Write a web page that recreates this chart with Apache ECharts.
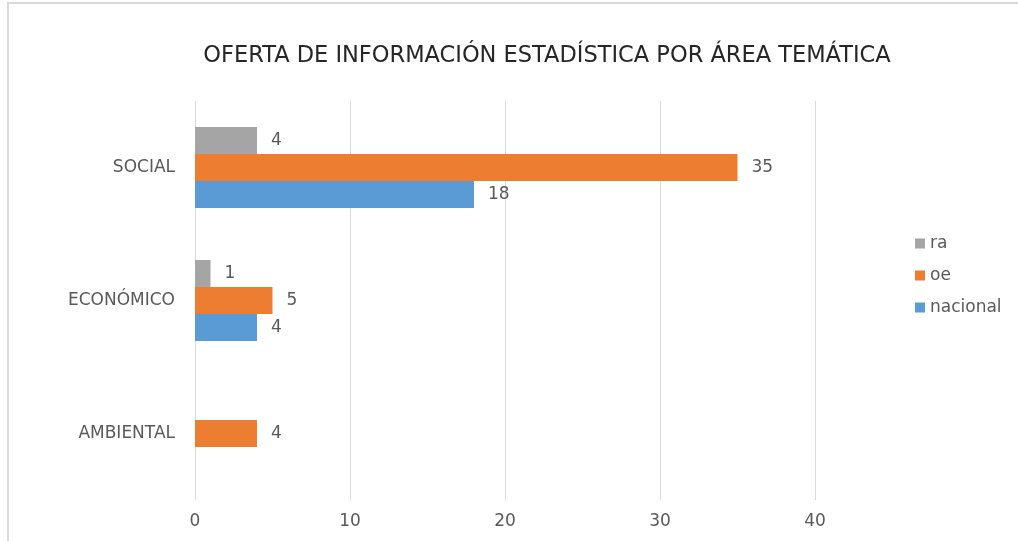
<!DOCTYPE html>
<html><head><meta charset="utf-8">
<script src="https://cdn.jsdelivr.net/npm/echarts@6/dist/echarts.min.js"></script>
<style>html,body{margin:0;padding:0;background:#fff}#c{width:1018px;height:541px}</style>
</head><body><div id="c"></div>
<script>
const categories = ['AMBIENTAL', 'ECONÓMICO', 'SOCIAL'];
const raValues = [null, 1, 4];
const oeValues = [4, 5, 35];
const nacionalValues = [null, 4, 18];
const xTicks = [0, 10, 20, 30, 40];

const chart = echarts.init(document.getElementById('c'));
const font = '"DejaVu Sans", "Open Sans", sans-serif';
const lbl = {show: true, position: 'right', color: '#595959', fontSize: 17, fontFamily: font, distance: 14};
chart.setOption({
  animation: false,
  textStyle: {fontFamily: font},
  graphic: [{type: 'rect', shape: {x: 8, y: 3, width: 1100, height: 700}, style: {fill: 'none', stroke: '#d9d9d9', lineWidth: 2}, z: -1}],
  title: {text: 'OFERTA DE INFORMACIÓN ESTADÍSTICA POR ÁREA TEMÁTICA', left: 542, top: 40, textAlign: 'center',
    textStyle: {fontFamily: font, fontSize: 22.5, fontWeight: 'normal', color: '#262626'}},
  legend: {orient: 'vertical', left: 910, top: 230, itemGap: 15, itemWidth: 10, itemHeight: 10, icon: 'rect',
    data: ['ra', 'oe', 'nacional'],
    textStyle: {fontFamily: font, fontSize: 17, color: '#595959'}},
  grid: {left: 195, top: 101, width: 620, height: 399, containLabel: false},
  xAxis: {type: 'value', min: 0, max: 40, interval: 10,
    axisLine: {show: false}, axisTick: {show: false},
    axisLabel: {color: '#595959', fontSize: 17, fontFamily: font, margin: 13, formatter: v => xTicks.includes(v) ? String(v) : ''},
    splitLine: {lineStyle: {color: '#d9d9d9', width: 1}}},
  yAxis: {type: 'category', data: categories,
    axisLine: {show: false}, axisTick: {show: false},
    axisLabel: {color: '#595959', fontSize: 17, fontFamily: font, margin: 20}},
  series: [
    {name: 'ra', type: 'bar', data: raValues, itemStyle: {color: '#a5a5a5'}, label: lbl, barWidth: 27, barGap: '0%'},
    {name: 'oe', type: 'bar', data: oeValues, itemStyle: {color: '#ed7d31'}, label: lbl, barWidth: 27, barGap: '0%'},
    {name: 'nacional', type: 'bar', data: nacionalValues, itemStyle: {color: '#5b9bd5'}, label: lbl, barWidth: 27, barGap: '0%'}
  ]
});
</script></body></html>
